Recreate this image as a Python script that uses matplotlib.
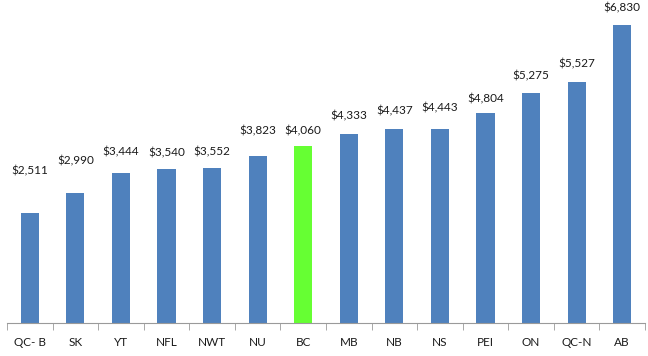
import numpy as np
import matplotlib.pyplot as plt

# Regions and values
regions = ["QC- B", "SK", "YT", "NFL", "NWT", "NU", "BC", "MB", "NB", "NS", "PEI", "ON", "QC-N", "AB"]
values = [2511, 2990, 3444, 3540, 3552, 3823, 4060, 4333, 4437, 4443, 4804, 5275, 5527, 6830]
highlight = "BC"

# label nudges (pixels above bar top), as placed in the original
label_offsets = [43, 32, 21, 16, 16, 25, 15, 18, 19, 21, 15, 17, 18, 17]

plt.rcParams['font.family'] = ['Lato', 'DejaVu Sans']

fig = plt.figure(figsize=(6.48, 3.56), dpi=100)
ax = fig.add_axes([7 / 648, 33 / 356, 638 / 648, 323 / 356])

x = np.arange(len(regions))
colors = ['#66FF33' if r == highlight else '#4F81BD' for r in regions]
ax.bar(x, values, width=0.4, color=colors)

for xi, v, off in zip(x, values, label_offsets):
    ax.annotate(f"${v:,}", (xi, v), xytext=(0, off), textcoords='offset pixels',
                ha='center', va='center', fontsize=8.5, color='#1a1a1a')

ax.set_xlim(-0.5, len(regions) - 0.5)
ax.set_ylim(0, 7403)

for s in ['top', 'right', 'left']:
    ax.spines[s].set_visible(False)
ax.spines['bottom'].set_color('#9a9a9a')
ax.set_yticks([])

# category labels centred, tick marks between categories
ax.set_xticks(x)
ax.set_xticklabels(regions, fontsize=8.5, color='#1a1a1a')
ax.tick_params(axis='x', which='major', length=0, pad=10)
ax.set_xticks(np.arange(len(regions) + 1) - 0.5, minor=True)
ax.tick_params(axis='x', which='minor', length=5, color='#9a9a9a', direction='out')

fig.savefig('out.png', dpi=100)
